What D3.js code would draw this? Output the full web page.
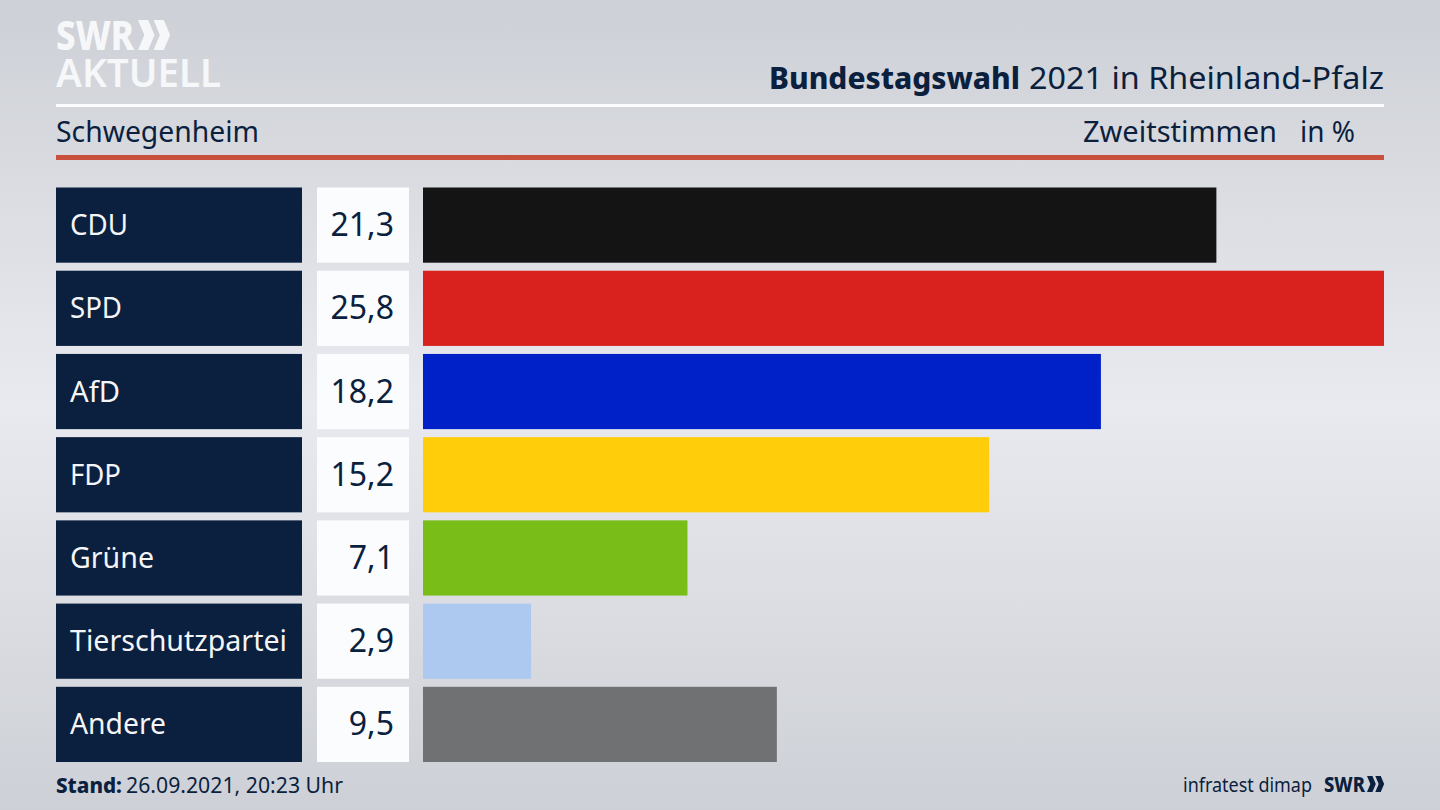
<!DOCTYPE html>
<html><head><meta charset="utf-8">
<script src="https://cdnjs.cloudflare.com/ajax/libs/d3/7.8.5/d3.min.js"></script>
<style>html,body{margin:0;padding:0;background:#d5d7dd}svg{display:block}text{font-family:"Noto Sans",sans-serif}</style>
</head><body><svg id="c" width="1440" height="810"></svg>
<script>
const categories=["CDU","SPD","AfD","FDP","Grüne","Tierschutzpartei","Andere"];
const seriesValues=[21.3,25.8,18.2,15.2,7.1,2.9,9.5];
const barColors=["#141414","#d9211e","#0021c8","#ffcd09","#79bd19","#aec9ef","#707173"];
const navy="#0b1f3e";
const svg=d3.select("#c");
const defs=svg.append("defs");
const g=defs.append("linearGradient").attr("id","bg").attr("x1",0).attr("y1",0).attr("x2",0).attr("y2",1);
[[0,"#cdd0d6"],[0.5,"#e9eaef"],[1,"#cdd0d6"]].forEach(s=>g.append("stop").attr("offset",s[0]).attr("stop-color",s[1]));
svg.append("rect").attr("width",1440).attr("height",810).attr("fill","url(#bg)");

const txt=(x,y,s,size,opt={})=>svg.append("text").attr("x",x).attr("y",y).attr("font-size",size)
  .attr("fill",opt.fill||navy).attr("font-weight",opt.weight||400).text(s)
  .call(t=>{if(opt.len){t.attr("textLength",opt.len).attr("lengthAdjust","spacingAndGlyphs");}});

// logo
const chev=(x,y,h,fill)=>{const w=h*0.55,t=h*0.34;
  [0,h*0.52].forEach(dx=>svg.append("path").attr("fill",fill)
   .attr("d",`M${x+dx},${y}L${x+dx+t},${y}L${x+dx+w},${y+h/2}L${x+dx+t},${y+h}L${x+dx},${y+h}L${x+dx+w-t},${y+h/2}Z`));};
txt(56,50,"SWR",41,{fill:"#f6f7f9",weight:800,len:78});
chev(138,20,30,"#f6f7f9");
txt(56,87,"AKTUELL",40,{fill:"#f6f7f9",weight:600,len:165});

// header
txt(769,89,"Bundestagswahl",31,{weight:800,len:251});
txt(1029,89,"2021 in Rheinland-Pfalz",31,{len:355});
svg.append("rect").attr("x",56).attr("y",104).attr("width",1328).attr("height",3).attr("fill","#fbfcfd");
txt(56,142,"Schwegenheim",29,{len:203});
txt(1083,142,"Zweitstimmen",29,{len:194});
txt(1300,142,"in %",29,{len:55});
svg.append("rect").attr("x",56).attr("y",155).attr("width",1328).attr("height",5).attr("fill","#c9503c");

// scales
const x=d3.scaleLinear().domain([0,25.8]).range([423,1384]);
const y=d3.scaleBand().domain(categories).range([187.5,762]).paddingInner(8/83);
const fmt=v=>d3.format(".1f")(v).replace(".",",");
const nameLens=[58,52,50,51,84,217,96];
const rows=svg.selectAll("g.row").data(categories).join("g").attr("class","row");
rows.append("rect").attr("x",56).attr("y",d=>y(d)).attr("width",246).attr("height",y.bandwidth()).attr("fill",navy);
rows.append("text").attr("x",70).attr("y",d=>y(d)+y.bandwidth()/2+10).attr("font-size",29).attr("fill","#f4f5f7")
  .attr("textLength",(d,i)=>nameLens[i]).attr("lengthAdjust","spacingAndGlyphs").text(d=>d);
rows.append("rect").attr("x",317).attr("y",d=>y(d)).attr("width",92).attr("height",y.bandwidth()).attr("fill","#fbfcfd");
rows.append("text").attr("x",394).attr("y",d=>y(d)+y.bandwidth()/2+11).attr("text-anchor","end").attr("font-size",32).attr("fill",navy)
  .text((d,i)=>fmt(seriesValues[i]));
rows.append("rect").attr("x",x(0)).attr("y",d=>y(d)).attr("height",y.bandwidth())
  .attr("width",(d,i)=>x(seriesValues[i])-x(0)).attr("fill",(d,i)=>barColors[i]);

// footer
txt(56,793,"Stand:",22,{weight:800,len:66});
txt(126,793,"26.09.2021, 20:23 Uhr",22,{len:217});
txt(1183,792,"infratest dimap",20,{len:129});
txt(1324,792,"SWR",22,{weight:800,len:41});
chev(1367,776,16,navy);
</script></body></html>
